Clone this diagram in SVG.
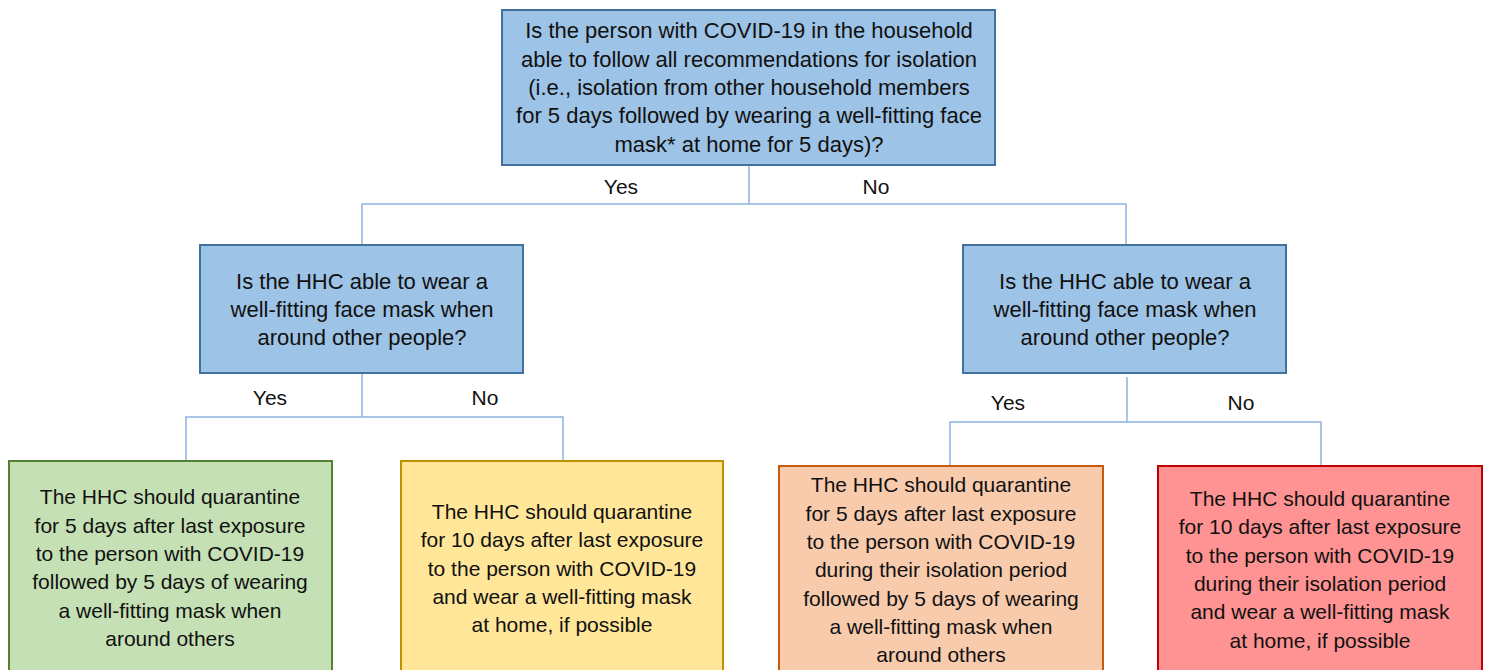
<svg xmlns="http://www.w3.org/2000/svg" width="1486" height="670" viewBox="0 0 1486 670">
<style>
text{font-family:"Liberation Sans",Arial,sans-serif;font-size:21px;fill:#111;text-anchor:middle}
.big text{font-size:22px}
.q{fill:#9DC3E6;stroke:#41719C;stroke-width:2}
.g{fill:#C5E0B4;stroke:#548235;stroke-width:2}
.y{fill:#FFE699;stroke:#BF9000;stroke-width:2}
.o{fill:#F8CBAD;stroke:#C55A11;stroke-width:2}
.r{fill:#FF9393;stroke:#C00000;stroke-width:2}
.c{fill:none;stroke:#8DB4E2;stroke-width:1.5}
</style>
<rect width="1486" height="670" fill="#fff"/>
<g id="connectors">
<path class="c" d="M749 165V204M362 245V204H1126V245"/>
<path class="c" d="M362 373V417M186 461V417H563V461"/>
<path class="c" d="M1127 377V422M950 466V422H1321V466"/>
<text x="621" y="194">Yes</text>
<text x="876" y="194">No</text>
<text x="270" y="405">Yes</text>
<text x="485" y="405">No</text>
<text x="1008" y="410">Yes</text>
<text x="1241" y="410">No</text>
</g>
<g id="q1" class="big">
<rect class="q" x="502" y="10" width="493" height="155"/>
<text x="749" y="38">Is the person with COVID-19 in the household</text>
<text x="749" y="66.5">able to follow all recommendations for isolation</text>
<text x="749" y="95">(i.e., isolation from other household members</text>
<text x="749" y="123">for 5 days followed by wearing a well-fitting face</text>
<text x="749" y="151.5">mask* at home for 5 days)?</text>
</g>
<g id="q2" class="big">
<rect class="q" x="200" y="245" width="323" height="128"/>
<text x="362" y="289">Is the HHC able to wear a</text>
<text x="362" y="317">well-fitting face mask when</text>
<text x="362" y="345">around other people?</text>
</g>
<g id="q3" class="big">
<rect class="q" x="963" y="245" width="323" height="128"/>
<text x="1125" y="289">Is the HHC able to wear a</text>
<text x="1125" y="317">well-fitting face mask when</text>
<text x="1125" y="345">around other people?</text>
</g>
<g id="a1">
<rect class="g" x="9" y="461" width="323" height="215"/>
<text x="170" y="504">The HHC should quarantine</text>
<text x="170" y="532.5">for 5 days after last exposure</text>
<text x="170" y="561">to the person with COVID-19</text>
<text x="170" y="589">followed by 5 days of wearing</text>
<text x="170" y="617.5">a well-fitting mask when</text>
<text x="170" y="646">around others</text>
</g>
<g id="a2">
<rect class="y" x="401" y="461" width="322" height="215"/>
<text x="562" y="519">The HHC should quarantine</text>
<text x="562" y="547">for 10 days after last exposure</text>
<text x="562" y="575.5">to the person with COVID-19</text>
<text x="562" y="604">and wear a well-fitting mask</text>
<text x="562" y="632">at home, if possible</text>
</g>
<g id="a3">
<rect class="o" x="779" y="466" width="324" height="210"/>
<text x="941" y="492">The HHC should quarantine</text>
<text x="941" y="520.5">for 5 days after last exposure</text>
<text x="941" y="549">to the person with COVID-19</text>
<text x="941" y="577">during their isolation period</text>
<text x="941" y="605.5">followed by 5 days of wearing</text>
<text x="941" y="634">a well-fitting mask when</text>
<text x="941" y="662">around others</text>
</g>
<g id="a4">
<rect class="r" x="1158" y="466" width="324" height="210"/>
<text x="1320" y="506">The HHC should quarantine</text>
<text x="1320" y="534">for 10 days after last exposure</text>
<text x="1320" y="562.5">to the person with COVID-19</text>
<text x="1320" y="591">during their isolation period</text>
<text x="1320" y="619">and wear a well-fitting mask</text>
<text x="1320" y="647.5">at home, if possible</text>
</g>
</svg>
